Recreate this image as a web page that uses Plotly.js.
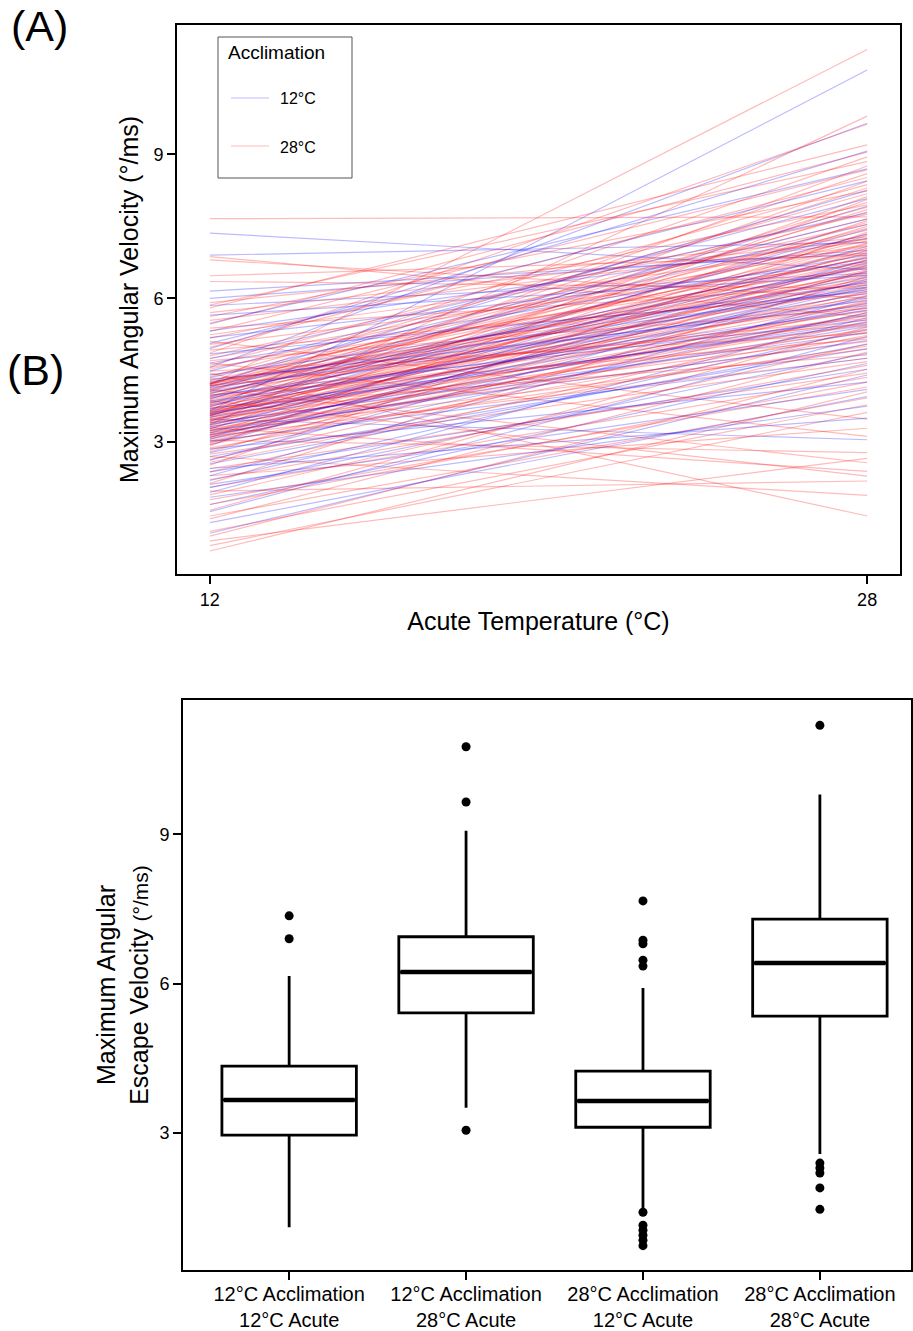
<!DOCTYPE html>
<html>
<head>
<meta charset="utf-8">
<script src="https://cdn.plot.ly/plotly-3.0.1.min.js"></script>
<style>
  html, body { margin: 0; padding: 0; background: #ffffff; }
  #chart { width: 913px; height: 1331px; }
</style>
</head>
<body>
<div id="chart"></div>
<script>
// ---------------- DATA ----------------
const acuteTemps = [12, 28];
const acclimationLabels = ["12°C", "28°C"];

// 12°C acclimation individuals: velocity at 12°C acute and at 28°C acute (paired)
const blueAt12 = [7.36, 6.90, 3.65, 3.48, 4.56, 4.95, 6.15, 6.00, 5.85,
  1.10, 1.32, 1.55, 1.70, 1.85, 1.95, 2.05, 2.12, 2.20, 2.30, 2.38, 2.45, 2.55, 2.62, 2.70, 2.78, 2.86, 2.95,
  3.02, 3.06, 3.10, 3.15, 3.19, 3.24, 3.28, 3.32, 3.36, 3.40, 3.44, 3.52, 3.55, 3.58, 3.62,
  3.67, 3.70, 3.74, 3.78, 3.82, 3.86, 3.90, 3.94, 3.98, 4.02, 4.06, 4.10, 4.14, 4.18, 4.22, 4.26, 4.30,
  4.34, 4.40, 4.48, 4.65, 4.74, 4.84, 5.06, 5.18, 5.32, 5.48, 5.65];
const blueAt28 = [6.60, 7.16, 10.76, 3.05, 9.65, 9.07, 6.94, 7.00, 6.52,
  4.40, 3.95, 5.20, 4.64, 3.75, 5.60, 4.85, 4.10, 5.35, 6.05, 4.52, 3.50, 5.04, 6.40, 4.95, 5.70, 4.25, 6.80,
  4.75, 5.90, 6.56, 5.41, 6.22, 5.12, 7.08, 5.65, 6.28, 5.28, 6.68, 5.80, 7.44, 6.00, 5.50,
  6.36, 5.45, 7.34, 6.10, 6.72, 5.75, 7.92, 6.24, 5.55, 6.85, 6.44, 7.54, 5.95, 6.64, 8.25, 6.18, 5.85,
  7.65, 6.32, 8.08, 6.90, 7.78, 6.14, 8.45, 6.76, 7.25, 8.70, 6.48];

// 28°C acclimation individuals: velocity at 12°C acute and at 28°C acute (paired)
const redAt12 = [7.66, 6.87, 6.80, 6.47, 6.35, 4.44, 0.94, 4.20, 3.36, 4.86, 1.98, 3.86, 3.30, 4.10, 3.04, 2.70, 4.65, 2.30, 5.10,
  0.73, 0.84, 1.04, 1.14, 1.40, 1.46, 1.58, 1.70, 1.80, 1.90, 2.06, 2.14, 2.22, 2.38, 2.45, 2.52, 2.58, 2.64, 2.75, 2.80, 2.84, 2.88, 2.92, 2.95, 2.98, 3.00, 3.02, 3.06, 3.08, 3.10,
  3.12, 3.14, 3.15, 3.17, 3.19, 3.20, 3.22, 3.24, 3.25, 3.27, 3.29, 3.32, 3.34, 3.37, 3.39, 3.41, 3.42, 3.44, 3.46, 3.47, 3.49, 3.51, 3.52, 3.54, 3.55, 3.56, 3.57, 3.58, 3.59, 3.60, 3.61, 3.62, 3.63,
  3.65, 3.66, 3.68, 3.70, 3.72, 3.74, 3.76, 3.78, 3.80, 3.82, 3.84, 3.88, 3.90, 3.92, 3.94, 3.96, 3.98, 4.00, 4.02, 4.04, 4.06, 4.08, 4.12, 4.14, 4.16, 4.17, 4.18, 4.19, 4.21, 4.22, 4.22, 4.23,
  4.25, 4.28, 4.32, 4.36, 4.40, 4.48, 4.52, 4.56, 4.60, 4.70, 4.75, 4.80, 4.92, 4.98, 5.04, 5.17, 5.24, 5.31, 5.38, 5.46, 5.54, 5.62, 5.70, 5.80, 5.86, 5.91];
const redAt28 = [7.70, 5.61, 6.00, 6.90, 6.21, 1.46, 2.66, 11.19, 9.80, 9.63, 2.19, 2.29, 2.39, 2.57, 2.78, 1.89, 3.12, 3.29, 3.48,
  4.05, 3.62, 4.52, 3.78, 4.88, 3.92, 5.40, 4.25, 4.15, 5.05, 4.35, 6.46, 4.60, 5.52, 4.44, 7.38, 5.23, 5.70, 4.68, 6.58, 5.94, 5.30, 8.06, 5.82, 6.75, 5.00, 6.15, 7.00, 5.64, 7.62,
  4.75, 5.85, 6.43, 5.36, 7.31, 4.94, 6.06, 6.60, 5.49, 8.12, 5.10, 5.67, 6.80, 5.76, 7.05, 5.19, 6.24, 7.50, 5.91, 6.53, 5.33, 6.12, 6.95, 8.44, 5.55, 6.68, 6.30, 7.85, 6.88, 5.97, 7.13, 8.76, 6.36,
  6.48, 5.43, 7.34, 6.70, 4.82, 7.58, 5.73, 6.93, 8.00, 6.03, 7.15, 6.55, 7.80, 5.88, 8.30, 6.78, 5.15, 7.46, 6.85, 6.18, 8.60, 7.03, 6.33, 7.90, 6.63, 7.20, 5.58, 8.95, 6.98, 6.39, 7.66, 7.25,
  6.50, 7.42, 5.46, 8.18, 6.83, 5.27, 7.54, 6.65, 8.37, 5.79, 7.08, 7.75, 6.09, 8.52, 6.73, 7.95, 7.10, 8.68, 6.27, 9.05, 7.18, 8.24, 7.23, 9.20, 8.85, 7.28];

const boxCategories = [
  "12°C Acclimation<br>12°C Acute",
  "12°C Acclimation<br>28°C Acute",
  "28°C Acclimation<br>12°C Acute",
  "28°C Acclimation<br>28°C Acute"
];
const velocityTicks = [3, 6, 9];

// ---------------- STYLE ----------------
const FONT = "Liberation Sans, Arial, Helvetica, sans-serif";
const BLUE = "rgba(0,0,255,0.27)";
const RED = "rgba(255,0,0,0.27)";
const W = 913, H = 1331;
const px = v => v / W;
const py = v => 1 - v / H;

// ---------------- TRACES ----------------
const traces = [];
function lineTrace(a, b, color) {
  return {
    type: "scatter", mode: "lines", x: acuteTemps, y: [a, b],
    xaxis: "x", yaxis: "y",
    line: { color: color, width: 1.2 },
    showlegend: false, hoverinfo: "skip"
  };
}
for (let i = 0; i < redAt12.length; i++) {
  if (i % 2 === 0 && blueAt12[i / 2] !== undefined) {
    traces.push(lineTrace(blueAt12[i / 2], blueAt28[i / 2], BLUE));
  }
  traces.push(lineTrace(redAt12[i], redAt28[i], RED));
}

const boxData = [blueAt12, blueAt28, redAt12, redAt28];
const BOXW = 0.76;
function median(arr) {
  const s = arr.slice().sort((p, q) => p - q);
  const n = s.length;
  return n % 2 ? s[(n - 1) / 2] : (s[n / 2 - 1] + s[n / 2]) / 2;
}
boxData.forEach((vals, k) => {
  traces.push({
    type: "box", y: vals, x0: k + 1, width: BOXW,
    xaxis: "x2", yaxis: "y2",
    boxpoints: "outliers", pointpos: 0, jitter: 0,
    whiskerwidth: 0,
    fillcolor: "#ffffff",
    line: { color: "#000000", width: 2.8 },
    marker: { color: "#000000", size: 9, line: { width: 0 } },
    showlegend: false, hoverinfo: "skip"
  });
});
boxData.forEach((vals, k) => {
  const m = median(vals);
  traces.push({
    type: "scatter", mode: "lines",
    x: [k + 1 - BOXW / 2 + 0.01, k + 1 + BOXW / 2 - 0.01], y: [m, m],
    xaxis: "x2", yaxis: "y2",
    line: { color: "#000000", width: 4.5 },
    showlegend: false, hoverinfo: "skip"
  });
});

// ---------------- LAYOUT ----------------
const axisCommon = {
  showline: true, mirror: true, linecolor: "#000000", linewidth: 2,
  ticks: "outside", ticklen: 8, tickwidth: 2, tickcolor: "#000000",
  showgrid: false, zeroline: false, automargin: false,
  tickfont: { family: FONT, size: 18, color: "#000000" }
};

const layout = {
  width: W, height: H,
  margin: { l: 0, r: 0, t: 0, b: 0, pad: 0 },
  paper_bgcolor: "#ffffff", plot_bgcolor: "#ffffff",
  font: { family: FONT, color: "#000000" },
  showlegend: false,
  xaxis: Object.assign({}, axisCommon, {
    domain: [px(177), px(900)], anchor: "y",
    range: [11.2, 28.8], tickvals: acuteTemps,
    title: { text: "Acute Temperature (°C)", font: { family: FONT, size: 25 }, standoff: 4 }
  }),
  yaxis: Object.assign({}, axisCommon, {
    domain: [py(574), py(25)], anchor: "x",
    range: [0.25, 11.7], tickvals: velocityTicks,
    title: { text: "Maximum Angular Velocity (°/ms)", font: { family: FONT, size: 25 }, standoff: 8 }
  }),
  xaxis2: Object.assign({}, axisCommon, {
    domain: [px(183), px(911)], anchor: "y2",
    range: [0.4, 4.515], tickvals: [1, 2, 3, 4], ticktext: boxCategories,
    ticklabelstandoff: -3,
    tickfont: { family: FONT, size: 20, color: "#000000" }
  }),
  yaxis2: Object.assign({}, axisCommon, {
    domain: [py(1270), py(700)], anchor: "x2",
    range: [0.24, 11.7], tickvals: velocityTicks,
    title: {
      text: "Maximum Angular<br>Escape Velocity <span style=\"font-size:21px\">(°/ms)</span>",
      font: { family: FONT, size: 25 }, standoff: 4
    }
  }),
  shapes: [
    { type: "rect", xref: "paper", yref: "paper", x0: px(218), x1: px(352), y0: py(178), y1: py(37),
      line: { color: "#555555", width: 1 }, fillcolor: "rgba(255,255,255,1)" },
    { type: "line", xref: "paper", yref: "paper", x0: px(231), x1: px(269), y0: py(98), y1: py(98),
      line: { color: BLUE, width: 1.2 } },
    { type: "line", xref: "paper", yref: "paper", x0: px(231), x1: px(269), y0: py(146), y1: py(146),
      line: { color: RED, width: 1.2 } }
  ],
  annotations: [
    { text: "(A)", xref: "paper", yref: "paper", x: px(9), y: py(26), xanchor: "left", yanchor: "middle",
      showarrow: false, font: { family: FONT, size: 43 } },
    { text: "(B)", xref: "paper", yref: "paper", x: px(5), y: py(370), xanchor: "left", yanchor: "middle",
      showarrow: false, font: { family: FONT, size: 43 } },
    { text: "Acclimation", xref: "paper", yref: "paper", x: px(226), y: py(53), xanchor: "left", yanchor: "middle",
      showarrow: false, font: { family: FONT, size: 19 } },
    { text: acclimationLabels[0], xref: "paper", yref: "paper", x: px(278), y: py(98), xanchor: "left", yanchor: "middle",
      showarrow: false, font: { family: FONT, size: 16 } },
    { text: acclimationLabels[1], xref: "paper", yref: "paper", x: px(278), y: py(147), xanchor: "left", yanchor: "middle",
      showarrow: false, font: { family: FONT, size: 16 } }
  ]
};

Plotly.newPlot("chart", traces, layout, { staticPlot: true, displayModeBar: false });
</script>
</body>
</html>
